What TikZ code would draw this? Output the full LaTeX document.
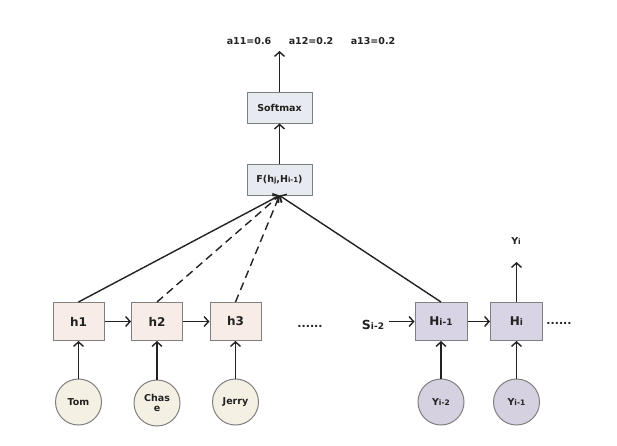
\documentclass[tikz,border=0pt]{standalone}
\usepackage{fontspec}
\setmainfont{DejaVu Sans}
\usetikzlibrary{arrows.meta}
\definecolor{boxline}{HTML}{808080}
\definecolor{peach}{HTML}{F8EDE6}
\definecolor{cream}{HTML}{F4F0E4}
\definecolor{lav}{HTML}{D8D3E5}
\definecolor{lavc}{HTML}{D5D1E1}
\definecolor{bluegray}{HTML}{E7EAF1}
\definecolor{ink}{HTML}{222222}
\newcommand{\fsz}[1]{\fontsize{#1}{#1}\selectfont}
\newcommand{\lowsub}[2]{{\fsz{#1}#2}}
\tikzset{
  boxbase/.style={draw=boxline, line width=1pt, inner sep=0pt, text=ink},
  hbox/.style={boxbase, fill=peach, minimum width=51pt, minimum height=38pt, font=\bfseries\fsz{12}},
  Hbox/.style={boxbase, fill=lav, minimum width=52pt, minimum height=38pt, font=\bfseries\fsz{12}},
  fbox/.style={boxbase, fill=bluegray, minimum width=65pt, minimum height=31pt, font=\bfseries\fsz{9.5}},
  wcirc/.style={circle, draw=boxline, line width=1pt, fill=cream, minimum size=46pt, inner sep=0pt, text=ink, font=\bfseries\fsz{9.5}, align=center},
  ycirc/.style={circle, draw=boxline, line width=1pt, fill=lavc, minimum size=46pt, inner sep=0pt, text=ink, font=\bfseries\fsz{9.5}},
  lbl/.style={text=ink, font=\bfseries\fsz{9.5}, inner sep=0pt},
  conn/.style={draw=ink, line width=1.4pt, -{Straight Barb[length=4.5pt,width=10pt]}},
  dconn/.style={conn, dash pattern=on 8pt off 5pt}
}
\begin{document}
\begin{tikzpicture}[x=1pt,y=-1pt]
\useasboundingbox[fill=white] (0,0) rectangle (617,445);
% top part
\node[fbox] (soft) at (279.5,107.5) {Softmax};
\node[fbox] (F) at (279.5,179.5) {F(h\lowsub{7}{j},H\lowsub{7}{i-1})};
\coordinate (top) at (279.5,51);
\node[lbl] (a11) at (249,41) {a11=0.6};
\node[lbl] (a12) at (311,41) {a12=0.2};
\node[lbl] (a13) at (373,41) {a13=0.2};
% encoder
\node[hbox] (h1) at (78.5,321.5) {h1};
\node[hbox] (h2) at (157,321.5) {h2};
\node[hbox] (h3) at (235.5,321.5) {h3};
\node[wcirc] (tom) at (78.5,402) {Tom};
\node[wcirc] (chase) at (157,403) {Chas\\e};
\node[wcirc] (jerry) at (235.5,402) {Jerry};
\node[lbl, font=\bfseries\fsz{11}] (dots1) at (310,326) {......};
% decoder
\node[lbl, font=\bfseries\fsz{12.5}] (si) at (373,325) {S\lowsub{9}{i-2}};
\node[Hbox] (H1) at (441,321.5) {H\lowsub{9}{i-1}};
\node[Hbox] (H2) at (516.5,321.5) {H\lowsub{9}{i}};
\node[lbl, font=\bfseries\fsz{11}] (dots2) at (559,323) {......};
\node[ycirc] (y2) at (441,402) {Y\lowsub{7.5}{i-2}};
\node[ycirc] (y1) at (516.5,402) {Y\lowsub{7.5}{i-1}};
\coordinate (ytop) at (516.5,262);
\node[lbl, font=\bfseries\fsz{9.5}] (yi) at (516,241) {Y\lowsub{7.5}{i}};
% connectors
\draw[conn] (soft.north) -- (top);
\draw[conn] (F.north) -- (soft.south);
\draw[conn] (h1.north) -- (F.south);
\draw[dconn] (h2.north) -- (F.south);
\draw[dconn] (h3.north) -- (F.south);
\draw[conn] (H1.north) -- (F.south);
\draw[conn] (h1) -- (h2);
\draw[conn] (h2) -- (h3);
\draw[conn] (tom) -- (h1);
\draw[conn] (chase) -- (h2);
\draw[conn] (jerry) -- (h3);
\draw[conn, shorten <=5pt] (si.east |- H1.west) -- (H1.west);
\draw[conn] (H1) -- (H2);
\draw[conn] (y2) -- (H1);
\draw[conn] (y1) -- (H2);
\draw[conn] (H2.north) -- (ytop);
\end{tikzpicture}
\end{document}
